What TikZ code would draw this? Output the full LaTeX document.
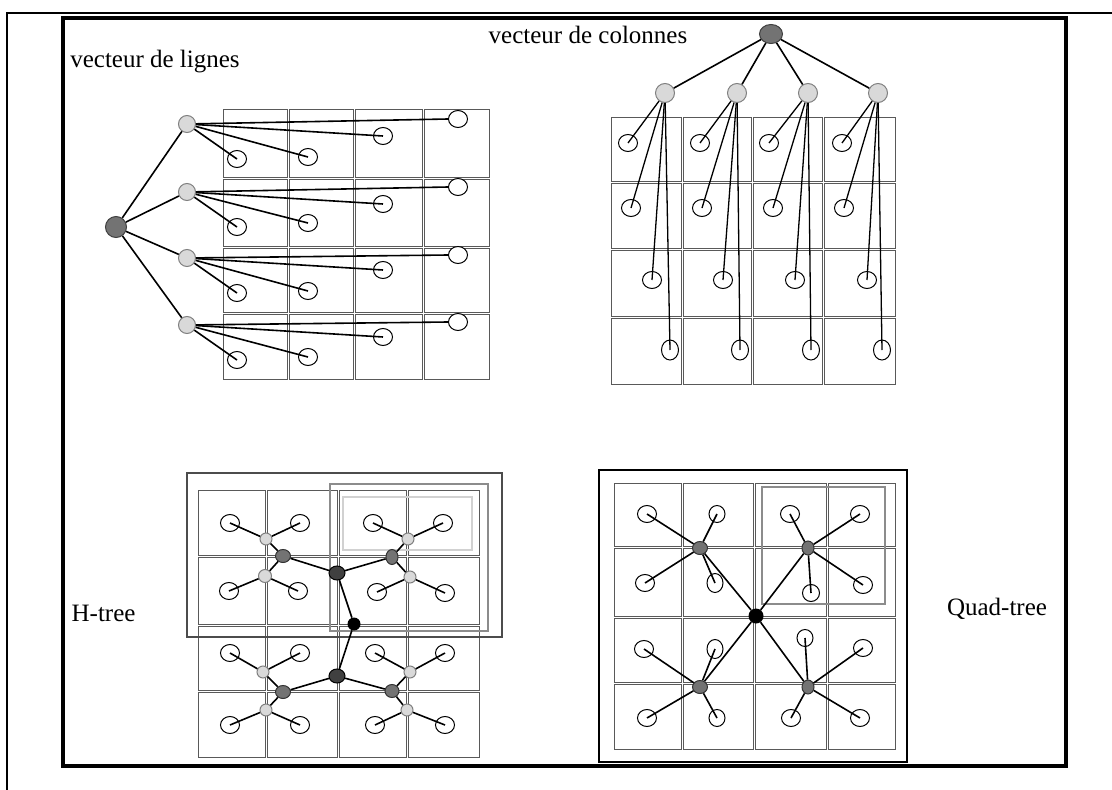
\documentclass[tikz,border=0pt]{standalone}
\usepackage{fontspec}
\setmainfont{Liberation Serif}
\usetikzlibrary{shapes.geometric}
\begin{document}
\begin{tikzpicture}[x=1pt, y=-1pt, every node/.style={font=\fontsize{25}{30}\selectfont}]
	\tikzstyle{cell} = [draw=black!65, line width=1pt]
	\tikzstyle{leaf} = [ellipse, draw, fill=white, inner sep=0pt, minimum width=19pt, minimum height=17pt, line width=1pt]
	\tikzstyle{root} = [circle, draw=black!75, fill=black!55, inner sep=0pt, minimum size=21pt, line width=1pt]
	\tikzstyle{child} = [circle, draw=black!50, fill=black!15, inner sep=0pt, minimum size=17pt, line width=1pt]
	\tikzstyle{dot} = [circle, fill=black, inner sep=0pt, minimum size=13pt]
	\tikzstyle{hdark} = [ellipse, draw=black, fill=black!75, inner sep=0pt, minimum width=16pt, minimum height=14pt, line width=1pt]
	\tikzstyle{hmid} = [ellipse, draw=black!80, fill=black!55, inner sep=0pt, minimum width=15pt, minimum height=13pt, line width=1pt]
	\tikzstyle{hlight} = [circle, draw=black!50, fill=black!15, inner sep=0pt, minimum size=13pt, line width=1pt]
	\tikzstyle{link} = [line width=1.6pt]
	\useasboundingbox (0,0) rectangle (1112,790);
	% frames
	\draw[line width=1.2pt] (7,790) -- (7,13) -- (1112,13);
	\draw[line width=3.2pt] (63,18) rectangle (1066,766);
	% grids
	\foreach \xa/\xb in {222/288,288/354,354/423,423/490}
	\foreach \ya/\yb in {108/178,178/247,247/313,313/380}
	\draw[cell] (\xa+1,\ya+1) rectangle (\xb-1,\yb-1);
	\foreach \xa/\xb in {610/682,682/752,752/823,823/896}
	\foreach \ya/\yb in {116/182,182/249,249/317,317/385}
	\draw[cell] (\xa+1,\ya+1) rectangle (\xb-1,\yb-1);
	\foreach \xa/\xb in {197/266,266/338,338/407,407/480}
	\foreach \ya/\yb in {489/556,556/625,625/691,691/758}
	\draw[cell] (\xa+1,\ya+1) rectangle (\xb-1,\yb-1);
	\foreach \xa/\xb in {613/682,682/754,754/827,827/896}
	\foreach \ya/\yb in {482/547,547/617,617/683,683/750}
	\draw[cell] (\xa+1,\ya+1) rectangle (\xb-1,\yb-1);
	% sub-tree frames
	\draw[line width=2.6pt, black!70] (187,473) rectangle (502,637);
	\draw[line width=2.2pt, black!45] (330,484) rectangle (488,631);
	\draw[line width=2.2pt, black!18] (343,497) rectangle (472,550);
	\draw[line width=2.4pt] (599,470) rectangle (907,762);
	\draw[line width=2.2pt, black!45] (762,487) rectangle (885,604);
	% labels
	\node[anchor=base](lbl-rows)at (155,67){vecteur de lignes};
	\node[anchor=base](lbl-cols)at (588,43){vecteur de colonnes};
	\node[anchor=base east](lbl-h)at (139,621){H-tree};
	\node[anchor=base](lbl-q)at (997,615){Quad-tree};
	% row vector
	\node[root](rows)at (116,227){};
	\node[child](row-1)at (187,124){};
	\node[child](row-2)at (187,192){};
	\node[child](row-3)at (187,258){};
	\node[child](row-4)at (187,325){};
	\node[leaf](r1-1)at (237,159){};
	\node[leaf](r1-2)at (308,157){};
	\node[leaf](r1-3)at (383,136){};
	\node[leaf](r1-4)at (458,119){};
	\node[leaf](r2-1)at (237,227){};
	\node[leaf](r2-2)at (308,223){};
	\node[leaf](r2-3)at (383,204){};
	\node[leaf](r2-4)at (458,187){};
	\node[leaf](r3-1)at (237,293){};
	\node[leaf](r3-2)at (308,291){};
	\node[leaf](r3-3)at (383,270){};
	\node[leaf](r3-4)at (458,255){};
	\node[leaf](r4-1)at (237,360){};
	\node[leaf](r4-2)at (308,357){};
	\node[leaf](r4-3)at (383,337){};
	\node[leaf](r4-4)at (458,322){};
	\path[link] (rows) edge (row-1)
	(rows) edge (row-2)
	(rows) edge (row-3)
	(rows) edge (row-4)
	(row-1) edge (r1-1.center) (row-1) edge (r1-2.center) (row-1) edge (r1-3.center) (row-1) edge (r1-4.west)
	(row-2) edge (r2-1.center) (row-2) edge (r2-2.center) (row-2) edge (r2-3.center) (row-2) edge (r2-4.west)
	(row-3) edge (r3-1.center) (row-3) edge (r3-2.center) (row-3) edge (r3-3.center) (row-3) edge (r3-4.west)
	(row-4) edge (r4-1.center) (row-4) edge (r4-2.center) (row-4) edge (r4-3.center) (row-4) edge (r4-4.west);
	% column vector
	\node[root,ellipse,minimum width=23pt,minimum height=19pt](cols)at (771,34){};
	\node[child,minimum size=19pt](col-1)at (665,93){};
	\node[child,minimum size=19pt](col-2)at (737,93){};
	\node[child,minimum size=19pt](col-3)at (808,93){};
	\node[child,minimum size=19pt](col-4)at (878,93){};
	\node[leaf](c1-1)at (628,143){};
	\node[leaf](c1-2)at (631,208){};
	\node[leaf](c1-3)at (652,280){};
	\node[leaf,minimum width=17pt,minimum height=20pt](c1-4)at (670,350){};
	\node[leaf](c2-1)at (700,143){};
	\node[leaf](c2-2)at (702,208){};
	\node[leaf](c2-3)at (723,280){};
	\node[leaf,minimum width=17pt,minimum height=20pt](c2-4)at (740,350){};
	\node[leaf](c3-1)at (769,143){};
	\node[leaf](c3-2)at (773,208){};
	\node[leaf](c3-3)at (795,280){};
	\node[leaf,minimum width=17pt,minimum height=20pt](c3-4)at (811,350){};
	\node[leaf](c4-1)at (842,143){};
	\node[leaf](c4-2)at (844,208){};
	\node[leaf](c4-3)at (867,280){};
	\node[leaf,minimum width=17pt,minimum height=20pt](c4-4)at (882,350){};
	\path[link] (cols) edge (col-1)
	(cols) edge (col-2)
	(cols) edge (col-3)
	(cols) edge (col-4);
	\path[line width=1.3pt] (col-1) edge (c1-1.center) (col-1) edge (c1-2.center) (col-1) edge (c1-3.center) (col-1) edge (c1-4.center)
	(col-2) edge (c2-1.center) (col-2) edge (c2-2.center) (col-2) edge (c2-3.center) (col-2) edge (c2-4.center)
	(col-3) edge (c3-1.center) (col-3) edge (c3-2.center) (col-3) edge (c3-3.center) (col-3) edge (c3-4.center)
	(col-4) edge (c4-1.center) (col-4) edge (c4-2.center) (col-4) edge (c4-3.center) (col-4) edge (c4-4.center);
	% H-tree
	\node[dot](h-root)at (354,624){};
	\node[hdark](h-up)at (337,573){};
	\node[hdark](h-down)at (337,676){};
	\node[hmid](h-ul)at (283,556){};
	\node[hmid,minimum width=12pt,minimum height=15pt](h-ur)at (392,557){};
	\node[hmid](h-dl)at (283,692){};
	\node[hmid,minimum width=14pt](h-dr)at (392,691){};
	\node[hlight,minimum size=12pt](h-ul-a)at (266,539){};
	\node[hlight](h-ul-b)at (265,576){};
	\node[hlight,minimum size=12pt](h-ur-a)at (408,539){};
	\node[hlight,minimum size=12pt](h-ur-b)at (410,577){};
	\node[hlight,minimum size=12pt](h-dl-a)at (263,672){};
	\node[hlight,minimum size=12pt](h-dl-b)at (266,710){};
	\node[hlight,minimum size=12pt](h-dr-a)at (410,672){};
	\node[hlight,minimum size=12pt](h-dr-b)at (407,710){};
	\node[leaf](h-ul-a1)at (230,523){};
	\node[leaf](h-ul-a2)at (300,523){};
	\node[leaf](h-ul-b1)at (229,591){};
	\node[leaf](h-ul-b2)at (298,591){};
	\node[leaf](h-ur-a1)at (373,523){};
	\node[leaf](h-ur-a2)at (443,523){};
	\node[leaf](h-ur-b1)at (377,592){};
	\node[leaf](h-ur-b2)at (445,593){};
	\node[leaf](h-dl-a1)at (230,653){};
	\node[leaf](h-dl-a2)at (300,653){};
	\node[leaf](h-dl-b1)at (230,725){};
	\node[leaf](h-dl-b2)at (300,725){};
	\node[leaf](h-dr-a1)at (375,653){};
	\node[leaf](h-dr-a2)at (445,653){};
	\node[leaf](h-dr-b1)at (375,725){};
	\node[leaf](h-dr-b2)at (445,725){};
	\path[link] (h-root) edge (h-up)
	(h-root) edge (h-down)
	(h-up) edge (h-ul) (h-up) edge (h-ur)
	(h-down) edge (h-dl) (h-down) edge (h-dr)
	(h-ul) edge (h-ul-a) (h-ul) edge (h-ul-b)
	(h-ur) edge (h-ur-a) (h-ur) edge (h-ur-b)
	(h-dl) edge (h-dl-a) (h-dl) edge (h-dl-b)
	(h-dr) edge (h-dr-a) (h-dr) edge (h-dr-b)
	(h-ul-a1.center) edge (h-ul-a) (h-ul-a2.center) edge (h-ul-a)
	(h-ul-b1.center) edge (h-ul-b) (h-ul-b2.center) edge (h-ul-b)
	(h-ur-a1.center) edge (h-ur-a) (h-ur-a2.center) edge (h-ur-a)
	(h-ur-b1.center) edge (h-ur-b) (h-ur-b2.center) edge (h-ur-b)
	(h-dl-a1.center) edge (h-dl-a) (h-dl-a2.center) edge (h-dl-a)
	(h-dl-b1.center) edge (h-dl-b) (h-dl-b2.center) edge (h-dl-b)
	(h-dr-a1.center) edge (h-dr-a) (h-dr-a2.center) edge (h-dr-a)
	(h-dr-b1.center) edge (h-dr-b) (h-dr-b2.center) edge (h-dr-b);
	% Quad-tree
	\node[dot,minimum size=15pt](q-root)at (756,616){};
	\node[hmid,minimum width=15pt](q-tl)at (700,548){};
	\node[hmid,minimum width=12pt,minimum height=14pt](q-tr)at (808,548){};
	\node[hmid,minimum width=15pt](q-bl)at (700,687){};
	\node[hmid,minimum width=12pt,minimum height=14pt](q-br)at (808,687){};
	\node[leaf](q-tl-1)at (647,514){};
	\node[leaf,minimum width=16pt](q-tl-2)at (717,514){};
	\node[leaf](q-tl-3)at (645,583){};
	\node[leaf,minimum width=16pt,minimum height=19pt](q-tl-4)at (715,583){};
	\node[leaf](q-tr-1)at (790,514){};
	\node[leaf](q-tr-2)at (860,514){};
	\node[leaf,minimum width=17pt](q-tr-3)at (811,593){};
	\node[leaf](q-tr-4)at (863,585){};
	\node[leaf](q-bl-1)at (644,649){};
	\node[leaf,minimum width=16pt,minimum height=19pt](q-bl-2)at (715,649){};
	\node[leaf](q-bl-3)at (647,718){};
	\node[leaf,minimum width=16pt](q-bl-4)at (717,718){};
	\node[leaf,minimum width=16pt](q-br-1)at (805,638){};
	\node[leaf](q-br-2)at (863,648){};
	\node[leaf](q-br-3)at (791,718){};
	\node[leaf](q-br-4)at (860,718){};
	\path[link] (q-root) edge (q-tl)
	(q-root) edge (q-tr)
	(q-root) edge (q-bl)
	(q-root) edge (q-br)
	(q-tl-1.center) edge (q-tl) (q-tl-2.center) edge (q-tl) (q-tl-3.center) edge (q-tl) (q-tl-4.center) edge (q-tl)
	(q-tr-1.center) edge (q-tr) (q-tr-2.center) edge (q-tr) (q-tr-3.center) edge (q-tr) (q-tr-4.center) edge (q-tr)
	(q-bl-1.center) edge (q-bl) (q-bl-2.center) edge (q-bl) (q-bl-3.center) edge (q-bl) (q-bl-4.center) edge (q-bl)
	(q-br-1.center) edge (q-br) (q-br-2.center) edge (q-br) (q-br-3.center) edge (q-br) (q-br-4.center) edge (q-br);
\end{tikzpicture}
\end{document}
